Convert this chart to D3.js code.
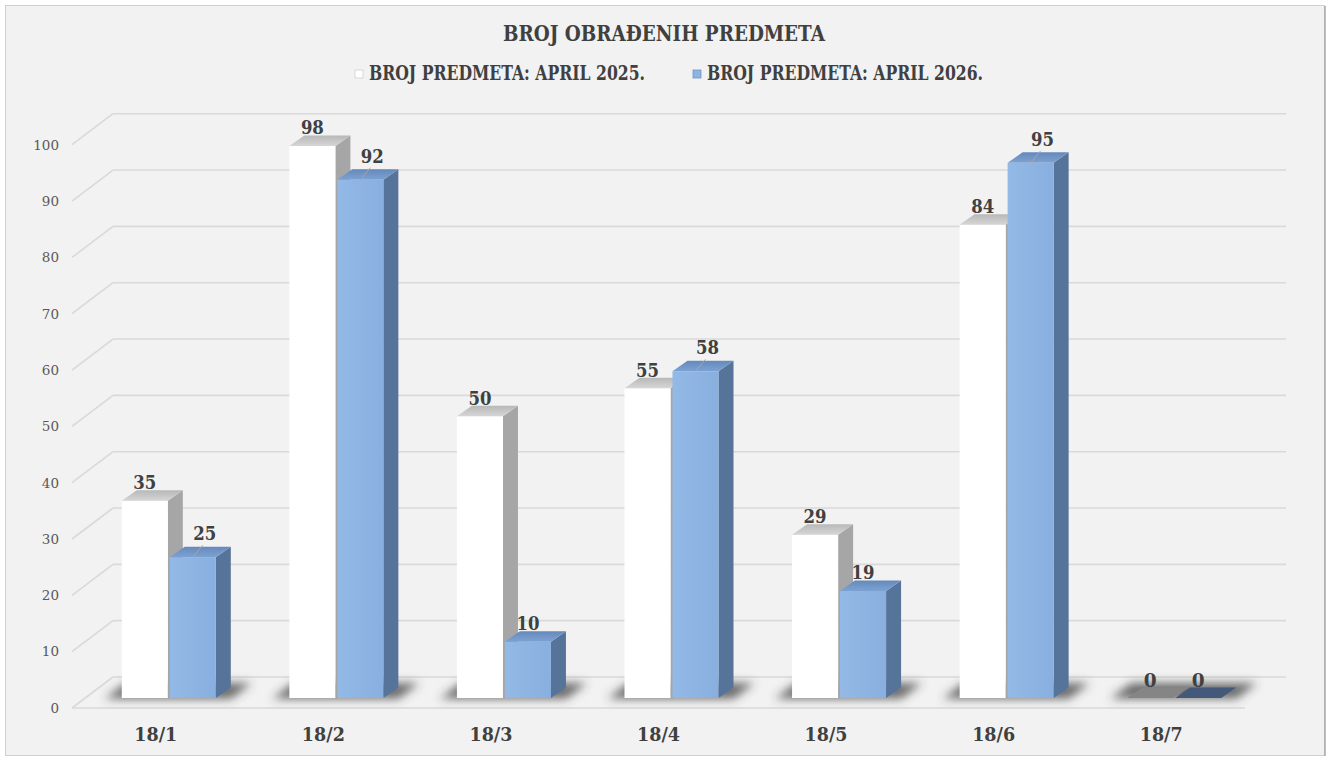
<!DOCTYPE html>
<html>
<head>
<meta charset="utf-8">
<script src="https://cdn.jsdelivr.net/npm/d3@7/dist/d3.min.js"></script>
<style>
  html, body { margin: 0; padding: 0; background: #ffffff; }
  svg { display: block; }
</style>
</head>
<body>
<script>
// ---------------- data ----------------
const categories = ["18/1", "18/2", "18/3", "18/4", "18/5", "18/6", "18/7"];
const seriesNames = ["BROJ PREDMETA: APRIL 2025.", "BROJ PREDMETA: APRIL 2026."];
const values2025 = [35, 98, 50, 55, 29, 84, 0];
const values2026 = [25, 92, 10, 58, 19, 95, 0];
const yTickValues = [0, 10, 20, 30, 40, 50, 60, 70, 80, 90, 100];
const chartTitle = "BROJ OBRAĐENIH PREDMETA";

// ---------------- style / layout ----------------
const W = 1327, H = 758;
const floorLeft = 72, floorRight = 1245;
const depth = { dx: 41, dy: -31 };          // floor depth vector
const barFront = { dx: 13, dy: -10 };       // offset of bar front face from floor front
const barDepth = { dx: 15, dy: -10.5 };     // bar thickness in depth
const blueLeader = [true, true, false, true, false, true, false];

const palette = [
  { front: "#ffffff", side: "#a6a6a6", top: "#c4c4c4", zero: "#858585" },
  { front: "#8db4e3", side: "#56739a", top: "#6f95c8", zero: "#44597a" }
];

const svg = d3.select("body").append("svg").attr("width", W).attr("height", H);
const defs = svg.append("defs");
defs.append("filter").attr("id", "blur").attr("x", "-50%").attr("y", "-200%")
  .attr("width", "200%").attr("height", "500%")
  .append("feGaussianBlur").attr("stdDeviation", 5);

const gBlue = defs.append("linearGradient").attr("id", "blueFront").attr("x1", 0).attr("x2", 1).attr("y1", 0).attr("y2", 0);
gBlue.append("stop").attr("offset", "0%").attr("stop-color", "#93b9e6");
gBlue.append("stop").attr("offset", "100%").attr("stop-color", "#88afdf");
const gWhiteTop = defs.append("linearGradient").attr("id", "whiteTop").attr("x1", 0).attr("x2", 0).attr("y1", 1).attr("y2", 0);
gWhiteTop.append("stop").attr("offset", "0%").attr("stop-color", "#d6d6d6");
gWhiteTop.append("stop").attr("offset", "100%").attr("stop-color", "#b8b8b8");
const gBlueTop = defs.append("linearGradient").attr("id", "blueTop").attr("x1", 0).attr("x2", 0).attr("y1", 1).attr("y2", 0);
gBlueTop.append("stop").attr("offset", "0%").attr("stop-color", "#7ca2d4");
gBlueTop.append("stop").attr("offset", "100%").attr("stop-color", "#6689bb");
const frontFill = ["#ffffff", "url(#blueFront)"];
const topFill = ["url(#whiteTop)", "url(#blueTop)"];

// background + border
svg.append("rect").attr("x", 5.5).attr("y", 5.5).attr("width", 1319).attr("height", 750)
  .attr("fill", "#f2f2f2").attr("stroke", "#d0d0d0").attr("stroke-width", 1);
svg.append("line").attr("x1", 1325).attr("x2", 1325).attr("y1", 6).attr("y2", 756)
  .attr("stroke", "#a8a8a8").attr("stroke-width", 1.5);

// scales
const y = d3.scaleLinear().domain([0, 100]).range([708, 144.7]);
const x = d3.scaleBand().domain(categories).range([floorLeft, floorRight])
  .paddingInner(0.439).paddingOuter(0.2195);
const xs = d3.scaleBand().domain([0, 1]).range([0, x.bandwidth()]).paddingInner(0.04);

// walls / gridlines
const grid = svg.append("g").attr("stroke", "#d9d9d9").attr("stroke-width", 1.6).attr("fill", "none");
yTickValues.forEach(v => {
  const yf = y(v);
  grid.append("line").attr("x1", floorLeft).attr("y1", yf)
    .attr("x2", floorLeft + depth.dx).attr("y2", yf + depth.dy);
  grid.append("line").attr("x1", floorLeft + depth.dx).attr("y1", yf + depth.dy)
    .attr("x2", floorRight + depth.dx).attr("y2", yf + depth.dy);
});
// floor front edge
grid.append("line").attr("x1", floorLeft).attr("y1", y(0)).attr("x2", floorRight).attr("y2", y(0));

// y axis
const yAxis = svg.append("g").attr("transform", "translate(62,0)")
  .call(d3.axisLeft(y).tickValues(yTickValues).tickSize(0).tickPadding(3));
yAxis.select(".domain").remove();
yAxis.selectAll("text").attr("font-family", "DejaVu Serif").attr("font-size", 13.5).attr("fill", "#595959");

// x axis
const xAxis = svg.append("g").attr("transform", `translate(0,${y(0)})`)
  .call(d3.axisBottom(x).tickSize(0).tickPadding(20));
xAxis.select(".domain").remove();
xAxis.selectAll("text").attr("font-family", "DejaVu Serif").attr("font-weight", "bold")
  .attr("font-size", 18.5).attr("fill", "#404040")
  .attr("textLength", 43).attr("lengthAdjust", "spacingAndGlyphs");

// floor point helper: front-plane x, depth fraction t, value v
function P(xf, t, v) {
  return [xf + t * depth.dx, y(v) + t * depth.dy];
}

// shadows
const tFront = barFront.dx / depth.dx;
const tBack = (barFront.dx + barDepth.dx) / depth.dx;
const shadowG = svg.append("g").attr("filter", "url(#blur)");
categories.forEach(c => {
  const x0 = x(c) - 16, x1 = x(c) + x.bandwidth() + 16;
  const pts = [P(x0, tFront - 0.02, 0), P(x1, tFront - 0.02, 0), P(x1, tBack + 0.12, 0), P(x0, tBack + 0.12, 0)];
  shadowG.append("polygon").attr("points", pts.map(p => p.join(",")).join(" "))
    .attr("fill", "#3c3c3c").attr("opacity", 0.75);
});

// bars
const seriesValues = [values2025, values2026];
const barsG = svg.append("g");
const labelsG = svg.append("g").attr("font-family", "DejaVu Serif").attr("font-weight", "bold")
  .attr("font-size", 18.5).attr("fill", "#404040").attr("text-anchor", "middle");

categories.forEach((c, i) => {
  [0, 1].forEach(s => {
    const v = seriesValues[s][i];
    const fx0 = x(c) + xs(s) + barFront.dx;
    const fx1 = fx0 + xs.bandwidth();
    const yb = y(0) + barFront.dy;
    const yt = y(v) + barFront.dy;
    const g = barsG.append("g");
    const poly = (pts, fill) => g.append("polygon")
      .attr("points", pts.map(p => p.join(",")).join(" ")).attr("fill", fill);
    if (v > 0) {
      poly([[fx1, yb], [fx1 + barDepth.dx, yb + barDepth.dy], [fx1 + barDepth.dx, yt + barDepth.dy], [fx1, yt]], palette[s].side);
      g.append("rect").attr("x", fx0).attr("y", yt).attr("width", fx1 - fx0).attr("height", yb - yt)
        .attr("fill", frontFill[s]);
      poly([[fx0, yt], [fx1, yt], [fx1 + barDepth.dx, yt + barDepth.dy], [fx0 + barDepth.dx, yt + barDepth.dy]], topFill[s]);
    } else {
      poly([[fx0, yt], [fx1, yt], [fx1 + barDepth.dx, yt + barDepth.dy], [fx0 + barDepth.dx, yt + barDepth.dy]], palette[s].zero);
    }
    const cx = (fx0 + fx1) / 2;
    if (s === 1 && blueLeader[i]) {
      labelsG.append("line").attr("x1", cx).attr("y1", yt).attr("x2", cx + 10).attr("y2", yt - 12)
        .attr("stroke", "#a6a6a6").attr("stroke-width", 1);
      labelsG.append("text").attr("x", cx + 12).attr("y", yt - 17).attr("textLength", 23)
        .attr("lengthAdjust", "spacingAndGlyphs").text(v);
    } else {
      const t = labelsG.append("text").attr("x", cx).attr("y", yt - 11.5).text(v);
      if (String(v).length === 2) t.attr("textLength", 23).attr("lengthAdjust", "spacingAndGlyphs");
    }
  });
});

// title
svg.append("text").attr("x", 664).attr("y", 41).attr("text-anchor", "middle")
  .attr("font-family", "DejaVu Serif").attr("font-weight", "bold").attr("font-size", 23)
  .attr("fill", "#404040").attr("textLength", 322).attr("lengthAdjust", "spacingAndGlyphs")
  .text(chartTitle);

// legend
const legendX = [355, 693];
const legendFill = ["#ffffff", "#8db4e3"];
seriesNames.forEach((name, s) => {
  svg.append("rect").attr("x", legendX[s]).attr("y", 70).attr("width", 8).attr("height", 8)
    .attr("fill", legendFill[s]).attr("stroke", s === 0 ? "#d0d0d0" : "#6f95c8").attr("stroke-width", 0.8);
  svg.append("text").attr("x", legendX[s] + 14).attr("y", 80)
    .attr("font-family", "DejaVu Serif").attr("font-weight", "bold").attr("font-size", 19.5)
    .attr("fill", "#404040").attr("textLength", 276).attr("lengthAdjust", "spacingAndGlyphs")
    .text(name);
});
</script>
</body>
</html>
